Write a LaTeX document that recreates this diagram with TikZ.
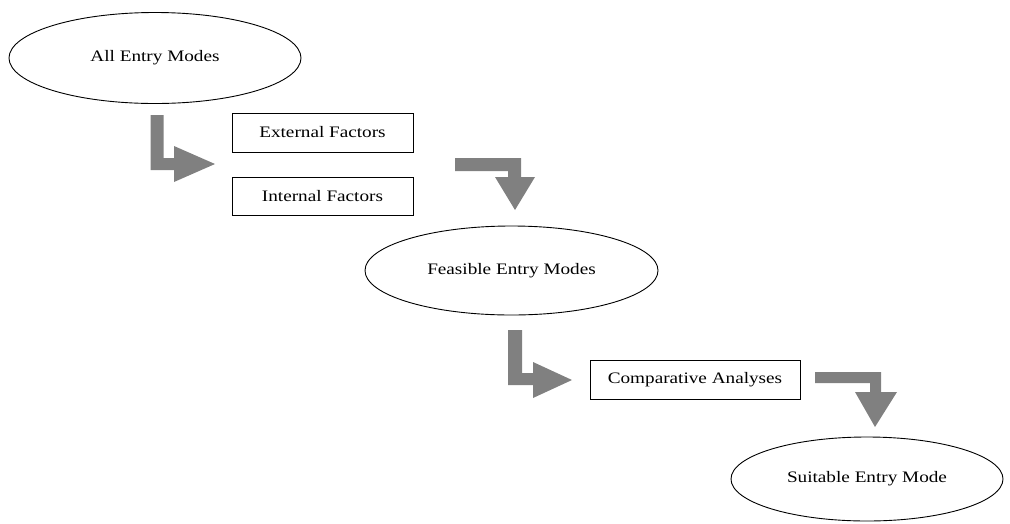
\documentclass[tikz,border=0pt]{standalone}
\usepackage{fontspec}
\setmainfont{Liberation Serif}[FakeStretch=1.2]
\usetikzlibrary{shapes.geometric}
\tikzset{
  oval/.style={draw=black, line width=0.9pt, ellipse, inner sep=0pt, font=\fontsize{16}{18}\selectfont},
  factorbox/.style={draw=black, line width=0.8pt, rectangle, inner sep=0pt, font=\fontsize{16}{18}\selectfont},
  blockarrow/.style={fill=gray, draw=none},
}
\begin{document}
\begin{tikzpicture}[x=1pt,y=-1pt]
\useasboundingbox (0,0) rectangle (1010,523);
% nodes
\node[oval, minimum width=292, minimum height=91] (all) at (155,58) {All Entry Modes};
\node[factorbox, minimum width=181, minimum height=39] (ext) at (322.5,132.5) {External Factors};
\node[factorbox, minimum width=181, minimum height=38] (int) at (322.5,196) {Internal Factors};
\node[oval, minimum width=293, minimum height=89] (feas) at (511.5,270.5) {Feasible Entry Modes};
\node[factorbox, minimum width=210, minimum height=39] (comp) at (695,379.5) {Comparative Analyses};
\node[oval, minimum width=272, minimum height=84] (suit) at (867,479) {Suitable Entry Mode};
% block arrows
\fill[blockarrow] (150.5,115) -- (163.5,115) -- (163.5,158) -- (174,158) -- (174,146) -- (215,164)
  -- (174,182) -- (174,170) -- (150.5,170) -- cycle;
\fill[blockarrow] (455,158) -- (521,158) -- (521,177) -- (535,177) -- (515,210) -- (495,177)
  -- (508,177) -- (508,171) -- (455,171) -- cycle;
\fill[blockarrow] (508,330) -- (522,330) -- (522,373) -- (533,373) -- (533,362) -- (572,380)
  -- (533,398) -- (533,385) -- (508,385) -- cycle;
\fill[blockarrow] (815,372) -- (881,372) -- (881,392) -- (897,392) -- (875,427) -- (855,392)
  -- (870,392) -- (870,383) -- (815,383) -- cycle;
\end{tikzpicture}
\end{document}
